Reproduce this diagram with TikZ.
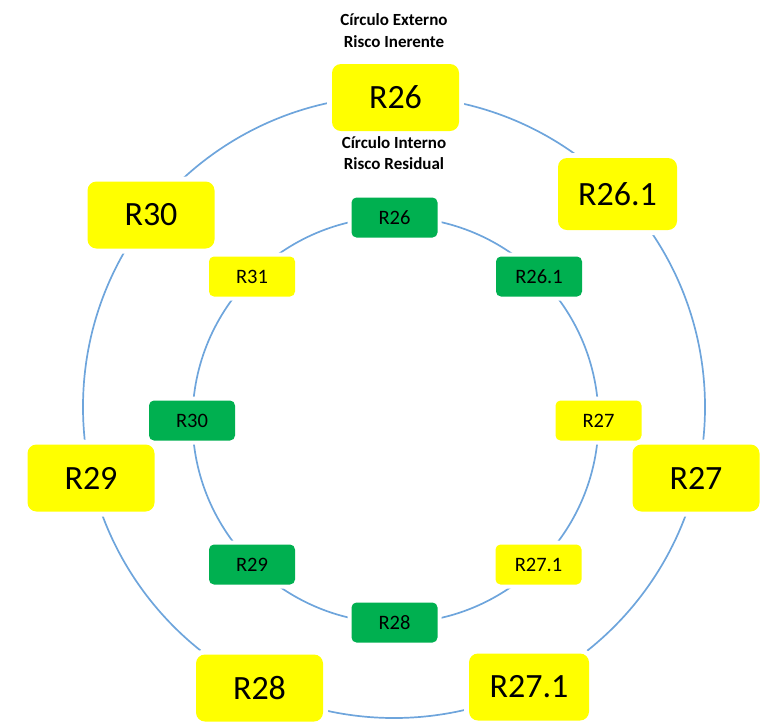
\documentclass[tikz,border=0pt]{standalone}
\usepackage{fontspec}
\setmainfont{Carlito}
\definecolor{ringblue}{RGB}{110,165,220}
\definecolor{boxyellow}{RGB}{255,255,0}
\definecolor{boxgreen}{RGB}{0,176,80}
\begin{document}
\begin{tikzpicture}[x=1pt,y=-1pt,
  ring/.style={draw=ringblue, line width=1.7pt},
  bigbox/.style={fill=boxyellow, rounded corners=9pt, minimum width=127pt, minimum height=67pt,
     inner sep=0pt, font=\fontsize{34}{38}\selectfont, preaction={draw=white, line width=10pt}},
  smallbox/.style={rounded corners=5pt, minimum width=86pt, minimum height=40pt,
     inner sep=0pt, font=\fontsize{20.5}{24}\selectfont, preaction={draw=white, line width=8pt}},
  ybox/.style={smallbox, fill=boxyellow},
  gbox/.style={smallbox, fill=boxgreen},
  title/.style={font=\bfseries\fontsize{17}{20}\selectfont, align=center, inner sep=0pt}
]
\useasboundingbox (0,0) rectangle (767,721);
\coordinate (oc) at (394,407);
\coordinate (ic) at (395.5,420);
\draw[ring] (oc) circle[radius=311];
\draw[ring] (ic) circle[radius=203];

% outer ring
\node[bigbox] (o26)  at (395.5,97.5) {R26};
\node[bigbox, minimum width=119pt, minimum height=72pt] (o261) at (617.5,194) {R26.1};
\node[bigbox] (o27)  at (696,478) {R27};
\node[bigbox, minimum width=120pt] (o271) at (529,687) {R27.1};
\node[bigbox] (o28)  at (259.5,688) {R28};
\node[bigbox] (o29)  at (91,478) {R29};
\node[bigbox] (o30)  at (151,215) {R30};

% inner ring
\node[gbox] (i26)  at (394.5,217.5) {R26};
\node[gbox] (i261) at (539,276.5) {R26.1};
\node[ybox] (i27)  at (598.5,420.5) {R27};
\node[ybox] (i271) at (538.5,564.5) {R27.1};
\node[gbox] (i28)  at (394.5,622.5) {R28};
\node[gbox] (i29)  at (252,564.5) {R29};
\node[gbox] (i30)  at (192,420.5) {R30};
\node[ybox] (i31)  at (252,276.5) {R31};

% titles
\node[title] (t1) at (394,30.5) {Círculo Externo\\[2pt]Risco Inerente};
\node[title] (t2) at (394,153.5) {Círculo Interno\\[1pt]Risco Residual};
\end{tikzpicture}
\end{document}
